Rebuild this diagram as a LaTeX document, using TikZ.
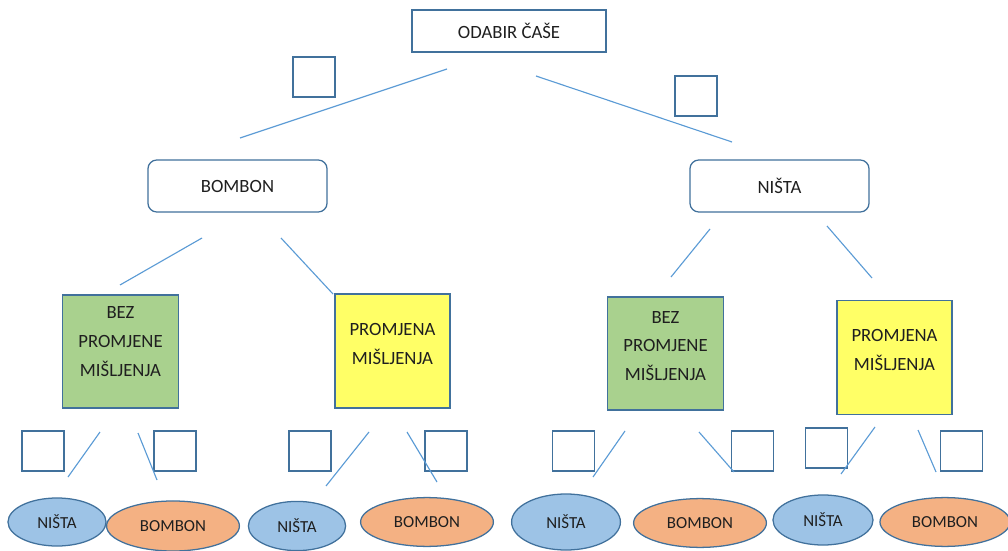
\documentclass[tikz,border=0pt]{standalone}
\usepackage{fontspec}
\setmainfont{Carlito}
\usepackage{xcolor}
\definecolor{odbText}{HTML}{1F1F1F}
\definecolor{odbBorder}{HTML}{41719C}
\definecolor{odbLine}{HTML}{5B9BD5}
\definecolor{odbGreen}{HTML}{A9D18E}
\definecolor{odbYellow}{HTML}{FFFF66}
\definecolor{odbBlue}{HTML}{9DC3E6}
\definecolor{odbOrange}{HTML}{F4B183}
\usetikzlibrary{shapes.geometric,positioning}
\tikzset{
    rootbox/.style={
        draw=odbBorder,
        fill=white,
        rectangle,
        minimum width=4.85cm,
        minimum height=1.05cm,
        line width=0.9pt,
        text=odbText,
        font=\fontsize{13.3}{16}\selectfont
    },
    tickbox/.style={
        draw=odbBorder,
        fill=white,
        rectangle,
        minimum width=1.05cm,
        minimum height=1cm,
        line width=0.9pt
    },
    pickbox/.style={
        draw=odbBorder,
        fill=white,
        rectangle,
        rounded corners=2.2mm,
        minimum width=4.475cm,
        minimum height=1.3cm,
        line width=0.9pt,
        text=odbText,
        font=\fontsize{13.3}{16}\selectfont
    },
    staybox/.style={
        draw=odbBorder,
        fill=odbGreen,
        rectangle,
        minimum width=2.9cm,
        minimum height=2.83cm,
        line width=0.9pt
    },
    switchbox/.style={
        draw=odbBorder,
        fill=odbYellow,
        rectangle,
        minimum width=2.875cm,
        minimum height=2.85cm,
        line width=0.9pt
    },
    boxtext/.style={
        align=center,
        inner sep=0pt,
        text=odbText,
        font=\fontsize{13.3}{20.5}\selectfont
    },
    nistacup/.style={
        draw=odbBorder,
        fill=odbBlue,
        ellipse,
        inner sep=0pt,
        minimum width=2.5cm,
        minimum height=1.25cm,
        line width=0.9pt,
        text=odbText,
        font=\fontsize{12}{14}\selectfont
    },
    bomboncup/.style={
        draw=odbBorder,
        fill=odbOrange,
        ellipse,
        inner sep=0pt,
        minimum width=3.32cm,
        minimum height=1.22cm,
        line width=0.9pt,
        text=odbText,
        font=\fontsize{12}{14}\selectfont
    },
    branch/.style={
        draw=odbLine,
        line width=0.8pt
    }
}

\begin{document}
\begin{tikzpicture}[x=0.025cm, y=-0.025cm]
    \useasboundingbox (0,0) rectangle (1008,551);

    % Root
    \node[rootbox] (root) at (509,31) {ODABIR ČAŠE};

    % First pick
    \node[tickbox] (tick1) at (314,77) {};
    \node[tickbox] (tick2) at (696,96) {};
    \node[pickbox] (bombon) at (237.5,186) {BOMBON};
    \node[pickbox] (nista) at (779.5,186) {NIŠTA};

    % Stay or switch
    \node[staybox] (stay1) at (120.5,351.5) {};
    \node[boxtext] (stay1txt) at ([yshift=2.5mm]stay1.center) {BEZ\\PROMJENE\\MIŠLJENJA};
    \node[switchbox] (switch1) at (392.5,351) {};
    \node[boxtext] (switch1txt) at ([yshift=1.8mm]switch1.center) {PROMJENA\\MIŠLJENJA};
    \node[staybox] (stay2) at (665.5,353.5) {};
    \node[boxtext] (stay2txt) at ([yshift=1.9mm]stay2.center) {BEZ\\PROMJENE\\MIŠLJENJA};
    \node[switchbox] (switch2) at (894.5,357.5) {};
    \node[boxtext] (switch2txt) at ([yshift=1.8mm]switch2.center) {PROMJENA\\MIŠLJENJA};

    % Tick boxes, bottom row
    \node[tickbox] (tickA) at (43,451) {};
    \node[tickbox] (tickB) at (175,451) {};
    \node[tickbox] (tickC) at (310,451) {};
    \node[tickbox] (tickD) at (446,451) {};
    \node[tickbox] (tickE) at (573.5,451) {};
    \node[tickbox] (tickF) at (752.5,451) {};
    \node[tickbox] (tickG) at (826.5,448) {};
    \node[tickbox] (tickH) at (961.5,451) {};

    % Outcomes
    \node[nistacup, minimum width=2.45cm, minimum height=1.2cm] (cup1) at (57,522) {NIŠTA};
    \node[bomboncup, minimum height=1.25cm] (cup2) at (173,526) {BOMBON};
    \node[nistacup, minimum width=2.43cm, minimum height=1.23cm] (cup3) at (297,526) {NIŠTA};
    \node[bomboncup] (cup4) at (427,522) {BOMBON};
    \node[nistacup, minimum width=2.72cm, minimum height=1.4cm] (cup5) at (566,522) {NIŠTA};
    \node[bomboncup] (cup6) at (700,523) {BOMBON};
    \node[nistacup] (cup7) at (823,520) {NIŠTA};
    \node[bomboncup, minimum width=3.25cm] (cup8) at (945,522) {BOMBON};

    % Line ends
    \coordinate (r1) at (447,69);   \coordinate (r1e) at (240,138);
    \coordinate (r2) at (536,76);   \coordinate (r2e) at (732,142);
    \coordinate (b1) at (202,238);  \coordinate (b1e) at (120,285);
    \coordinate (b2) at (281,238);  \coordinate (b2e) at (333,294);
    \coordinate (n1) at (710,229);  \coordinate (n1e) at (671,277);
    \coordinate (n2) at (827,226);  \coordinate (n2e) at (872,278);
    \coordinate (s1) at (100,432);  \coordinate (s1e) at (68,477);
    \coordinate (s2) at (138,433);  \coordinate (s2e) at (157,480);
    \coordinate (s3) at (369,432);  \coordinate (s3e) at (326,486);
    \coordinate (s4) at (407,432);  \coordinate (s4e) at (437,482);
    \coordinate (s5) at (625,431);  \coordinate (s5e) at (593,477);
    \coordinate (s6) at (699,432);  \coordinate (s6e) at (734,472);
    \coordinate (s7) at (875,427);  \coordinate (s7e) at (841,474);
    \coordinate (s8) at (918,430);  \coordinate (s8e) at (936,472);

    % Branches
    \draw[branch] (r1) -- (r1e);
    \draw[branch] (r2) -- (r2e);
    \draw[branch] (b1) -- (b1e);
    \draw[branch] (b2) -- (b2e);
    \draw[branch] (n1) -- (n1e);
    \draw[branch] (n2) -- (n2e);
    \draw[branch] (s1) -- (s1e);
    \draw[branch] (s2) -- (s2e);
    \draw[branch] (s3) -- (s3e);
    \draw[branch] (s4) -- (s4e);
    \draw[branch] (s5) -- (s5e);
    \draw[branch] (s6) -- (s6e);
    \draw[branch] (s7) -- (s7e);
    \draw[branch] (s8) -- (s8e);
\end{tikzpicture}
\end{document}
